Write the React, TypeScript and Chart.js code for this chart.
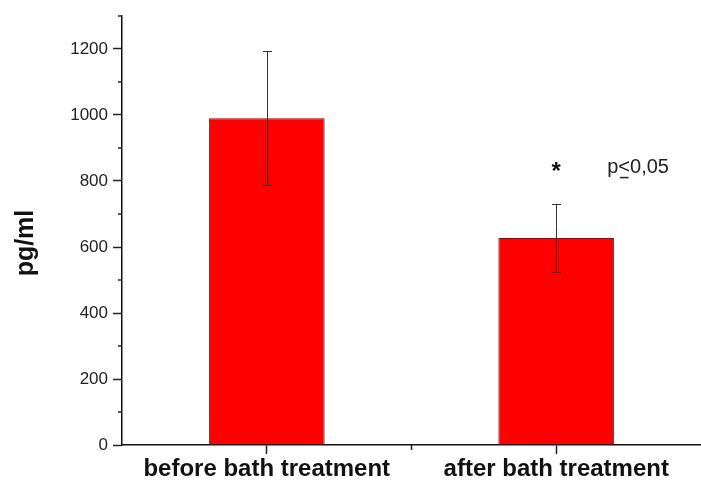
import React, { useEffect, useRef } from "react";
import { Chart, registerables } from "chart.js";

Chart.register(...registerables);

const categories = ["before bath treatment", "after bath treatment"];
const means = [990, 627];
const errors = [203, 102];
const yTicksMajor = [0, 200, 400, 600, 800, 1000, 1200];
const yMax = 1300;
const yTitle = "pg/ml";
const starValue = 806;
const pValue = 824;
const pLabelPre = "p";
const pLabelSym = "<";
const pLabelPost = "0,05";

const FONT = "'Liberation Sans', Arial, sans-serif";

const overlayPlugin = {
  id: "overlay",
  afterDatasetsDraw(chart: any) {
    const ctx = chart.ctx;
    const x = chart.scales.x;
    const y = chart.scales.y;
    ctx.save();
    // error bars
    ctx.strokeStyle = "#333";
    ctx.lineWidth = 1;
    means.forEach((m, i) => {
      const px = Math.round(x.getPixelForValue(i)) + 0.5;
      const top = Math.round(y.getPixelForValue(m + errors[i])) + 0.5;
      const bot = Math.round(y.getPixelForValue(m - errors[i])) + 0.5;
      ctx.beginPath();
      ctx.moveTo(px, top);
      ctx.lineTo(px, bot);
      ctx.moveTo(px - 4.5, top);
      ctx.lineTo(px + 4.5, top);
      ctx.moveTo(px - 4.5, bot);
      ctx.lineTo(px + 4.5, bot);
      ctx.stroke();
    });
    // minor y ticks
    ctx.strokeStyle = "#222";
    ctx.lineWidth = 1.5;
    const left = chart.chartArea.left;
    for (let v = 100; v <= yMax; v += 200) {
      const py = y.getPixelForValue(v);
      ctx.beginPath();
      ctx.moveTo(left - 4, py);
      ctx.lineTo(left, py);
      ctx.stroke();
    }
    // minor x tick between categories
    const mid = (x.getPixelForValue(0) + x.getPixelForValue(1)) / 2;
    const bottom = chart.chartArea.bottom;
    ctx.beginPath();
    ctx.moveTo(mid, bottom);
    ctx.lineTo(mid, bottom + 5);
    ctx.stroke();
    // y title
    ctx.save();
    ctx.translate(26, y.getPixelForValue(612));
    ctx.rotate(-Math.PI / 2);
    ctx.font = "bold 25px " + FONT;
    ctx.fillStyle = "#111";
    ctx.textAlign = "center";
    ctx.textBaseline = "middle";
    ctx.fillText(yTitle, 0, 0);
    ctx.restore();
    // annotations
    const cx = x.getPixelForValue(1);
    ctx.fillStyle = "#111";
    ctx.font = "bold 24px " + FONT;
    ctx.textAlign = "center";
    ctx.textBaseline = "alphabetic";
    ctx.fillText("*", cx, y.getPixelForValue(starValue));
    ctx.font = "20px " + FONT;
    ctx.textAlign = "left";
    const py = y.getPixelForValue(pValue);
    let tx = cx + 51;
    ctx.fillStyle = "#222";
    ctx.fillText(pLabelPre, tx, py);
    tx += ctx.measureText(pLabelPre).width;
    ctx.fillText(pLabelSym, tx, py);
    const w = ctx.measureText(pLabelSym).width;
    ctx.strokeStyle = "#222";
    ctx.lineWidth = 1.5;
    ctx.beginPath();
    ctx.moveTo(tx + 1.5, py + 4.5);
    ctx.lineTo(tx + w - 1.5, py + 4.5);
    ctx.stroke();
    tx += w;
    ctx.fillText(pLabelPost, tx, py);
    ctx.restore();
  },
};

export default function App() {
  const ref = useRef<HTMLCanvasElement>(null);
  useEffect(() => {
    if (!ref.current) return;
    const chart = new Chart(ref.current, {
      type: "bar",
      data: {
        labels: categories,
        datasets: [
          {
            data: means,
            backgroundColor: "#ff0000",
            borderColor: "#333",
            borderWidth: 1,
            barPercentage: 0.4,
            categoryPercentage: 1,
          },
        ],
      },
      options: {
        animation: false,
        responsive: false,
        devicePixelRatio: 1,
        layout: { padding: { top: 16, right: 0, bottom: 0, left: 0 } },
        plugins: { legend: { display: false }, tooltip: { enabled: false } },
        scales: {
          x: {
            type: "category",
            offset: true,
            grid: {
              offset: false,
              drawOnChartArea: false,
              tickLength: 9,
              tickColor: "#222",
              tickWidth: 1.5,
            },
            border: { display: true, color: "#111", width: 1.5 },
            ticks: {
              color: "#111",
              font: { family: FONT, size: 24, weight: "bold" },
              padding: 1,
              maxRotation: 0,
              autoSkip: false,
            },
            afterFit: (s: any) => {
              s.height = 36;
            },
          },
          y: {
            min: 0,
            max: yMax,
            afterBuildTicks: (s: any) => {
              s.ticks = yTicksMajor.map((v) => ({ value: v }));
            },
            grid: {
              drawOnChartArea: false,
              tickLength: 9,
              tickColor: "#222",
              tickWidth: 1.5,
            },
            border: { display: true, color: "#111", width: 1.5 },
            ticks: {
              color: "#222",
              font: { family: FONT, size: 17 },
              padding: 5,
              callback: (v: any) => String(v),
            },
            afterFit: (s: any) => {
              s.width = 122;
            },
          },
        },
      },
      plugins: [overlayPlugin],
    });
    return () => chart.destroy();
  }, []);
  return (
    <div style={{ position: "fixed", left: 0, top: 0, width: 701, height: 481, background: "#fff" }}>
      <canvas ref={ref} width={701} height={481} />
    </div>
  );
}
